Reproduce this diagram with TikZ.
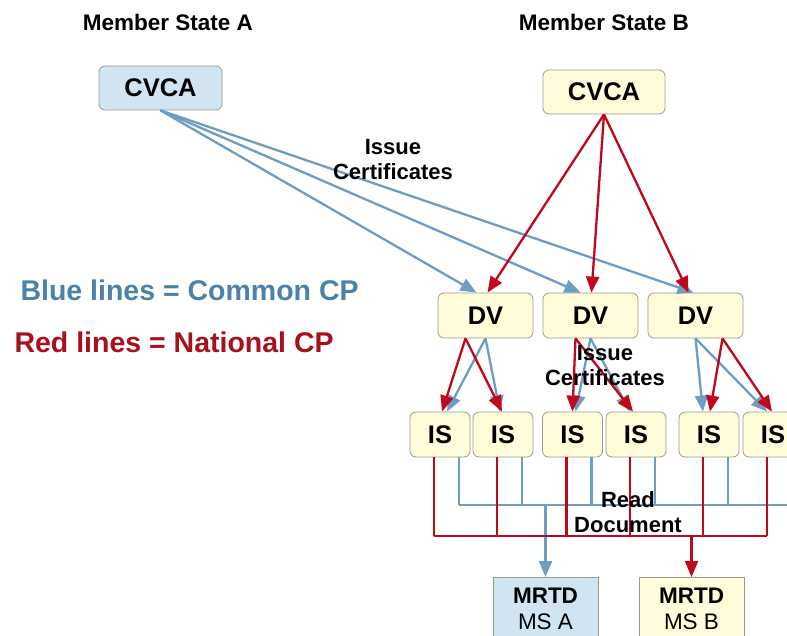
\documentclass[tikz,border=0pt]{standalone}
\usepackage{fontspec}
\setmainfont{Liberation Sans}
\usetikzlibrary{arrows.meta}
\definecolor{cpblue}{HTML}{6E9CC2}
\definecolor{cpred}{HTML}{C0071B}
\definecolor{msblue}{HTML}{D0E4F2}
\definecolor{msyellow}{HTML}{FFFCD9}
\definecolor{frame}{HTML}{9A9A90}
\definecolor{legblue}{HTML}{4C82A8}
\definecolor{legred}{HTML}{A8101E}

\begin{document}
\begin{tikzpicture}[
    x=1pt,
    y=-1pt,
    box/.style={
        draw=frame,
        line width=0.8pt,
        rounded corners=6pt,
        inner sep=0pt,
        font=\bfseries\fontsize{25.5}{28}\selectfont
    },
    ybox/.style={box,fill=msyellow},
    bbox/.style={box,fill=msblue},
    doc/.style={
        draw=frame,
        line width=0.8pt,
        align=center,
        minimum width=105pt,
        minimum height=62pt,
        anchor=north,
        font=\fontsize{22.5}{26}\selectfont
    },
    bline/.style={draw=cpblue,line width=2.3pt},
    rline/.style={draw=cpred,line width=2.3pt},
    arr/.style={-{Triangle[length=16pt,width=13pt]}},
    lbl/.style={align=center,font=\bfseries\fontsize{22}{25}\selectfont}
]
\useasboundingbox (0,0) rectangle (787,636);

% headings
\node[font=\bfseries\fontsize{22.5}{25}\selectfont] (stateA) at (168,22) {Member State A};
\node[font=\bfseries\fontsize{22.5}{25}\selectfont] (stateB) at (604,22) {Member State B};

% certificate chain
\node[bbox,minimum width=123pt,minimum height=44pt] (cvcaA) at (160.5,88) {CVCA};
\node[ybox,minimum width=122pt,minimum height=44pt] (cvcaB) at (604,92) {CVCA};

\foreach \i/\x in {1/485.5,2/590.5,3/695.5}
    \node[ybox,minimum width=95pt,minimum height=45pt] (dv\i) at (\x,315.5) {DV};

\foreach \i/\x in {1/440,2/503,3/572.5,4/636,5/709,6/773}
    \node[ybox,minimum width=60pt,minimum height=45pt] (is\i) at (\x,434.5) {IS};

\node[doc,fill=msblue] (mrtdA) at (545.5,577) {\textbf{MRTD}\\MS A};
\node[doc,fill=msyellow] (mrtdB) at (691.5,577) {\textbf{MRTD}\\MS B};

% CVCA -> DV
\draw[bline,arr] (cvcaA.south) -- ([xshift=-9pt]dv1.north);
\draw[bline,arr] (cvcaA.south) -- ([xshift=-10pt]dv2.north);
\draw[bline,arr] (cvcaA.south) -- ([xshift=-2pt]dv3.north);
\draw[rline,arr] (cvcaB.south) -- ([xshift=2pt]dv1.north);
\draw[rline,arr] (cvcaB.south) -- ([xshift=1pt]dv2.north);
\draw[rline,arr] (cvcaB.south) -- ([xshift=-7pt]dv3.north);

% DV -> IS
\draw[bline,arr] (dv1.south) -- ([xshift=7pt]is1.north);
\draw[bline,arr] (dv1.south) -- ([xshift=-3pt]is2.north);
\draw[rline,arr] ([xshift=-20pt]dv1.south) -- ([xshift=2pt]is1.north);
\draw[rline,arr] ([xshift=-20pt]dv1.south) -- ([xshift=-1pt]is2.north);

\draw[bline,arr] (dv2.south) -- ([xshift=3pt]is3.north);
\draw[bline,arr] (dv2.south) -- ([xshift=-6pt]is4.north);
\draw[rline,arr] ([xshift=-15pt]dv2.south) -- (is3.north);
\draw[rline,arr] ([xshift=-15pt]dv2.south) -- ([xshift=-3pt]is4.north);

\draw[bline,arr] (dv3.south) -- ([xshift=-6pt]is5.north);
\draw[bline,arr] (dv3.south) -- ([xshift=-6pt]is6.north);
\draw[rline,arr] ([xshift=27pt]dv3.south) -- ([xshift=1pt]is5.north);
\draw[rline,arr] ([xshift=27pt]dv3.south) -- ([xshift=-1pt]is6.north);

% IS -> MRTD
\coordinate (bbus) at (0,505);
\coordinate (rbus) at (0,536);
\foreach \i in {1,...,6}
    \draw[bline] ([xshift=19pt]is\i.south) -- ([xshift=19pt]is\i.south |- bbus);
\draw[bline] ([xshift=19pt]is1.south |- bbus) -- ([xshift=19pt]is6.south |- bbus);
\draw[bline,arr] (mrtdA.north |- bbus) -- (mrtdA.north);

\foreach \i in {1,...,6}
    \draw[rline] ([xshift=-6pt]is\i.south) -- ([xshift=-6pt]is\i.south |- rbus);
\draw[rline] ([xshift=-6pt]is1.south |- rbus) -- ([xshift=-6pt]is6.south |- rbus);
\draw[rline,arr] (mrtdB.north |- rbus) -- (mrtdB.north);

% labels
\node[lbl] (issueA) at (393,160) {Issue\\Certificates};
\node[lbl] (issueB) at (605,366) {Issue\\Certificates};
\node[lbl] (read) at (628,512) {Read\\Document};

\node[anchor=west,text=legblue,font=\bfseries\fontsize{28.5}{32}\selectfont] (legA) at (17,290) {Blue lines = Common CP};
\node[anchor=west,text=legred,font=\bfseries\fontsize{28.5}{32}\selectfont] (legB) at (11,342) {Red lines = National CP};

\end{tikzpicture}
\end{document}
